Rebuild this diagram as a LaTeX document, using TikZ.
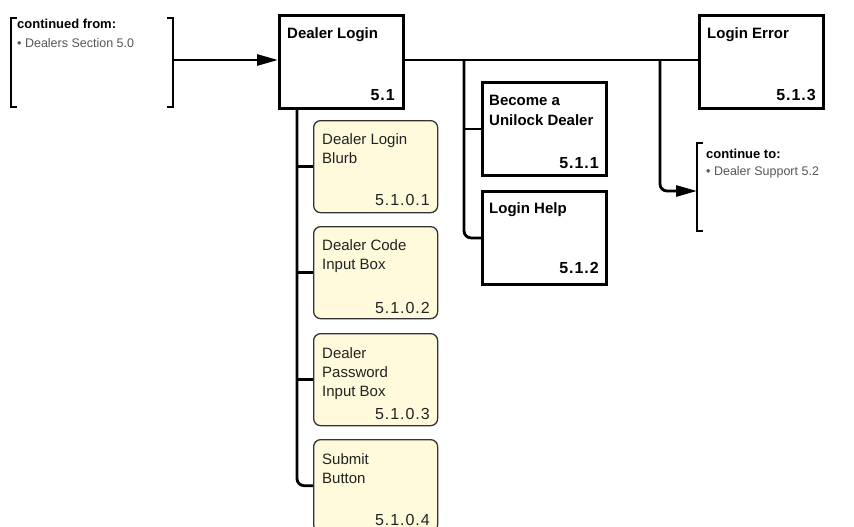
\documentclass[tikz,border=0pt]{standalone}
\usepackage{fontspec}
\setmainfont{Liberation Sans}
\newfontfamily\numfont{Liberation Sans}[LetterSpace=6]
\usetikzlibrary{arrows.meta}
\definecolor{boxyellow}{HTML}{FFFADC}
\definecolor{boxedge}{HTML}{333333}
\definecolor{graytext}{HTML}{555555}
\definecolor{darktext}{HTML}{222222}
\newcommand\mytwo[2]{\vtop{\hbox{#1}\hbox{#2}}}
\newcommand\mythree[3]{\vtop{\hbox{#1}\hbox{#2}\hbox{#3}}}
\begin{document}
\begin{tikzpicture}[x=1pt,y=-1pt,
  mainbox/.style={draw=black, line width=2.8pt, fill=white, minimum width=124pt, minimum height=93pt, anchor=north west, inner sep=0pt},
  ybox/.style={draw=boxedge, line width=1.3pt, fill=boxyellow, rounded corners=7pt, minimum width=124pt, minimum height=92pt, anchor=north west, inner sep=0pt},
  btitle/.style={anchor=base west, inner sep=0pt, font=\bfseries\fontsize{15}{20}\selectfont},
  bnum/.style={anchor=base east, inner sep=0pt, font=\numfont\bfseries\fontsize{16}{20}\selectfont},
  ytitle/.style={anchor=base west, inner sep=0pt, text=darktext, font=\fontsize{15}{19}\selectfont},
  ynum/.style={anchor=base east, inner sep=0pt, text=darktext, font=\numfont\fontsize{16}{19}\selectfont},
  smallhead/.style={anchor=base west, inner sep=0pt, font=\bfseries\fontsize{13}{15}\selectfont},
  smallitem/.style={anchor=base west, inner sep=0pt, text=graytext, font=\fontsize{12.5}{15}\selectfont},
  conn/.style={line width=2.8pt, draw=black},
  bracket/.style={line width=2.8pt, draw=black},
  arr/.style={-{Triangle[length=21pt,width=11pt]}}
]
\useasboundingbox (0,0) rectangle (854,527);
\clip (0,0) rectangle (854,527);

% brackets
\draw[bracket] (17,18) -- (11,18) -- (11,107) -- (17,107);
\draw[bracket] (167,18) -- (173,18) -- (173,107) -- (167,107);
\draw[bracket] (703,143) -- (697,143) -- (697,231) -- (703,231);
\coordinate (cfrom) at (173,60);
\coordinate (cto) at (697,191);
\node[smallhead] (cfromhead) at (17,29) {continued from:};
\node[smallitem] (cfromitem) at (17,48) {• Dealers Section 5.0};
\node[smallhead] (ctohead) at (706,158) {continue to:};
\node[smallitem] (ctoitem) at (706,175) {• Dealer Support 5.2};

% main boxes
\node[mainbox] (login) at (278,14) {};
\node[mainbox] (error) at (698,14) {};
\node[mainbox] (become) at (481,81) {};
\node[mainbox] (help) at (481,190) {};

% yellow boxes
\node[ybox] (y1) at (313,120) {};
\node[ybox] (y2) at (313,226) {};
\node[ybox] (y3) at (313,333) {};
\node[ybox] (y4) at (313,439) {};

% connectors
\coordinate (j1) at (464,60);
\coordinate (j2) at (660,60);
\coordinate (j3) at (297,107);
\draw[conn, arr] (cfrom) -- (cfrom -| login.west);
\draw[conn] (login.east |- j1) -- (error.west |- j1);
\draw[conn] (become.west -| j1) -- (become.west);
\draw[conn, rounded corners=7pt] (j1) |- (help.west);
\draw[conn, arr, rounded corners=7pt] (j2) |- (cto);
\draw[conn] (y1.west -| j3) -- (y1.west);
\draw[conn] (y2.west -| j3) -- (y2.west);
\draw[conn] (y3.west -| j3) -- (y3.west);
\draw[conn, rounded corners=7pt] (j3) |- (y4.west);

% texts in main boxes
\node[btitle] (logint) at (287,39) {Dealer Login};
\node[bnum] (loginn) at (395,100) {5.1};
\node[btitle] (errort) at (707,39) {Login Error};
\node[bnum] (errorn) at (816,100) {5.1.3};
\node[btitle] (becomet) at (489,106) {\mytwo{Become a}{Unilock Dealer}};
\node[bnum] (becomen) at (599,168) {5.1.1};
\node[btitle] (helpt) at (489,213) {Login Help};
\node[bnum] (helpn) at (599,273) {5.1.2};

% texts in yellow boxes
\node[ytitle] (y1t) at (322,144) {\mytwo{Dealer Login}{Blurb}};
\node[ynum] (y1n) at (430,205) {5.1.0.1};
\node[ytitle] (y2t) at (322,250) {\mytwo{Dealer Code}{Input Box}};
\node[ynum] (y2n) at (430,313) {5.1.0.2};
\node[ytitle] (y3t) at (322,358) {\mythree{Dealer}{Password}{Input Box}};
\node[ynum] (y3n) at (430,419) {5.1.0.3};
\node[ytitle] (y4t) at (322,464) {\mytwo{Submit}{Button}};
\node[ynum] (y4n) at (430,525) {5.1.0.4};
\end{tikzpicture}
\end{document}
